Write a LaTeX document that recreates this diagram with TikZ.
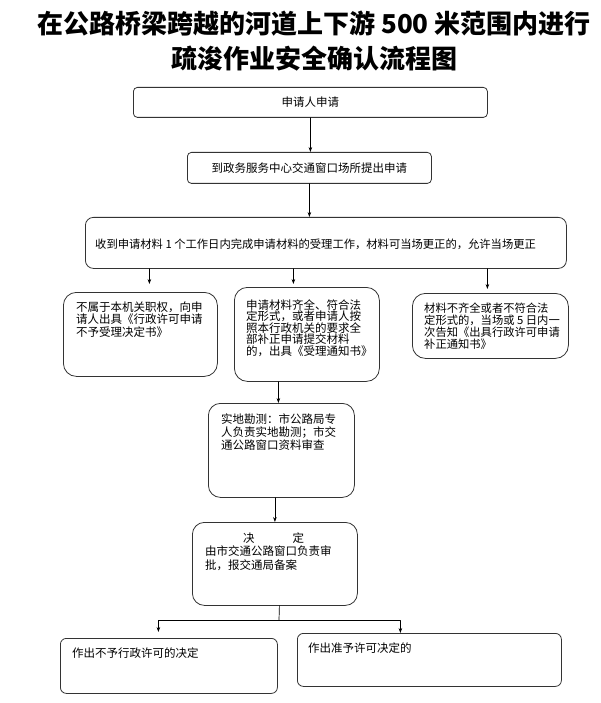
\documentclass[tikz,border=0pt]{standalone}
\usepackage{fontspec}
\newfontfamily\cjk{Noto Sans CJK SC}
\usetikzlibrary{arrows.meta}
\tikzset{
  box/.style={draw=black!80, line width=0.8pt, anchor=north west, inner sep=0pt,
              font=\cjk\fontsize{11.5}{12.5}\selectfont},
  txt/.style={anchor=north west, inner sep=0pt, align=left,
              font=\cjk\fontsize{11.5}{12.5}\selectfont},
  arr/.style={line width=0.7pt, -{Stealth[length=5pt,width=3.6pt]}},
}
\begin{document}
\begin{tikzpicture}[x=1pt, y=-1pt, line cap=round, line join=round]
  \useasboundingbox[fill=white] (0,0) rectangle (600,703);
  % 标题
  \node[font=\cjk\bfseries\fontsize{26}{35}\selectfont, align=center] (title) at (314,41.5)
    {在公路桥梁跨越的河道上下游 500 米范围内进行\\疏浚作业安全确认流程图};
  % 申请与受理
  \node[box, rounded corners=4pt, minimum width=354pt, minimum height=30pt] (apply) at (133,87) {申请人申请};
  \node[box, rounded corners=4pt, minimum width=244pt, minimum height=31pt] (submit) at (187,152)
    {到政务服务中心交通窗口场所提出申请};
  \node[box, rounded corners=8pt, minimum width=481pt, minimum height=51pt] (receive) at (85,217) {};
  \node[txt, font=\cjk\fontsize{11.3}{12.5}\selectfont] (receive-t) at (95,238.5)
    {收到申请材料 1 个工作日内完成申请材料的受理工作，材料可当场更正的，允许当场更正};
  % 三种受理结果
  \node[box, rounded corners=13pt, minimum width=154pt, minimum height=84pt] (noauth) at (63,292) {};
  \node[box, rounded corners=13pt, minimum width=145pt, minimum height=94pt] (accept) at (234,287) {};
  \node[box, rounded corners=13pt, minimum width=156pt, minimum height=65pt] (supplement) at (412,293) {};
  \node[txt] (noauth-t) at (76,301.5)
    {不属于本机关职权，向申\\请人出具《行政许可申请\\不予受理决定书》};
  \node[txt, font=\cjk\fontsize{11.5}{11.5}\selectfont] (accept-t) at (246,299.5)
    {申请材料齐全、符合法\\定形式，或者申请人按\\照本行政机关的要求全\\部补正申请提交材料\\的，出具《受理通知书》};
  \node[txt, font=\cjk\fontsize{11.3}{12}\selectfont] (supplement-t) at (424,302.5)
    {材料不齐全或者不符合法\\定形式的，当场或 5 日内一\\次告知《出具行政许可申请\\补正通知书》};
  % 勘测与决定
  \node[box, rounded corners=12pt, minimum width=146pt, minimum height=94pt] (survey) at (208,403) {};
  \node[txt, font=\cjk\fontsize{11.5}{13}\selectfont] (survey-t) at (221,413.5)
    {实地勘测：市公路局专\\人负责实地勘测；市交\\通公路窗口资料审查};
  \node[box, rounded corners=12pt, minimum width=165pt, minimum height=83pt] (decide) at (192,522) {};
  \node[txt, font=\cjk\fontsize{11.5}{13.5}\selectfont] (decide-t) at (205,532.5)
    {\hspace*{38pt}决\hspace{38pt}定\\由市交通公路窗口负责审\\批，报交通局备案};
  % 两种决定
  \node[box, rounded corners=6pt, minimum width=217pt, minimum height=55pt] (deny) at (60,638) {};
  \node[box, rounded corners=6pt, minimum width=264pt, minimum height=53pt] (grant) at (297,633) {};
  \node[txt] (deny-t) at (72,647.5) {作出不予行政许可的决定};
  \node[txt] (grant-t) at (308,642.5) {作出准予许可决定的};
  % 连线
  \draw[arr] (apply.south) -- (apply.south |- submit.north);
  \draw[arr] (submit.south) -- (submit.south |- receive.north);
  \draw[arr, shorten >=8pt] ([xshift=9pt]noauth.north |- receive.south) -- ([xshift=9pt]noauth.north);
  \draw[arr, shorten >=3pt] ([xshift=-13.5pt]accept.north |- receive.south) -- ([xshift=-13.5pt]accept.north);
  \draw[arr, shorten >=4pt] ([xshift=-3pt]supplement.north |- receive.south) -- ([xshift=-3pt]supplement.north);
  \draw[arr] ([xshift=-3pt]survey.north |- accept.south) -- ([xshift=-3pt]survey.north);
  \draw[arr] (decide.north |- survey.south) -- (decide.north);
  \coordinate (fork) at (279,620);
  \draw[line width=0.7pt] ([xshift=4.5pt]decide.south) -- (fork);
  \draw[arr, shorten >=6pt] (fork) -| ([xshift=-10.5pt]deny.north);
  \draw[arr] (fork) -| ([xshift=-29pt]grant.north);
\end{tikzpicture}
\end{document}
